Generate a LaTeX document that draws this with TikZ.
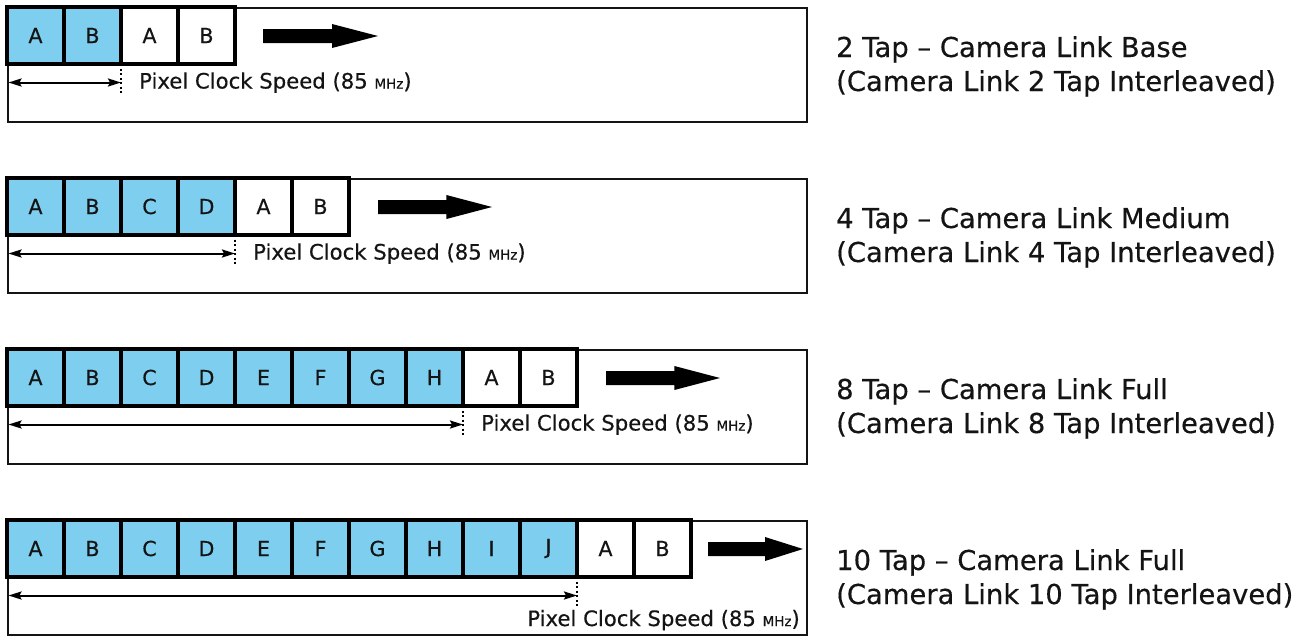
\documentclass[tikz,border=0pt]{standalone}
\usepackage{fontspec}
\setmainfont[FakeBold=0.4]{DejaVu Sans}
\usetikzlibrary{arrows.meta}
\definecolor{cellblue}{RGB}{126,206,239}
\definecolor{ink}{RGB}{20,20,20}
\newcommand\cellfont{\fontsize{20.6}{22}\selectfont}
\newcommand\pixfont{\fontsize{21.2}{24}\selectfont}
\newcommand\labfont{\fontsize{27.4}{32}\selectfont}
\newcommand\MyMHz{{\fontsize{13.5}{14}\selectfont MHz}}
\begin{document}
\begin{tikzpicture}[x=1pt,y=-1pt,
  frame/.style={draw=ink, line width=1.6pt, inner sep=0pt, minimum width=799pt, minimum height=114pt, anchor=north west},
  cell/.style={draw=black, line width=3.8pt, minimum width=57pt, minimum height=57pt, inner sep=0pt, font=\cellfont, text=ink},
  bigarrow/.style={fill=black},
  dim/.style={draw=black, line width=2pt, {Stealth[length=13pt,width=8pt,inset=2pt]}-{Stealth[length=13pt,width=8pt,inset=2pt]}},
  dots/.style={draw=black, line width=1.8pt, dash pattern=on 2pt off 2.5pt},
  pix/.style={font=\pixfont, text=ink, inner sep=0pt},
  lab/.style={font=\labfont, text=ink, inner sep=0pt, anchor=base west}
]
\useasboundingbox (0,0) rectangle (1309,635);
\foreach \r/\nb/\as/\ae/\la/\lb in {
  0/2/263/378/{2 Tap – Camera Link Base}/{(Camera Link 2 Tap Interleaved)},
  1/4/378/492/{4 Tap – Camera Link Medium}/{(Camera Link 4 Tap Interleaved)},
  2/8/606/720/{8 Tap – Camera Link Full}/{(Camera Link 8 Tap Interleaved)},
  3/10/708/803/{10 Tap – Camera Link Full}/{(Camera Link 10 Tap Interleaved)}} {
  \pgfmathsetmacro\ty{7+171*\r}
  \pgfmathtruncatemacro\m{\nb+2}
  \pgfmathsetmacro\xc{7+57*\nb}
  \pgfmathsetmacro\hs{\ae-0.4*(\ae-\as)}
  % frame
  \node[frame] (frame-\r) at (7,\ty) {};
  % cells
  \foreach \i in {1,...,\m} {
    \ifnum\i>\nb
      \pgfmathtruncatemacro\k{\i-\nb-1}
      \def\fillc{white}
    \else
      \pgfmathtruncatemacro\k{\i-1}
      \def\fillc{cellblue}
    \fi
    \pgfmathsetmacro\L{{"A","B","C","D","E","F","G","H","I","J"}[\k]}
    \node[cell, fill=\fillc] (c-\r-\i) at ({7+57*(\i-0.5)}, \ty+28.5) {\L};
  }
  % big arrow
  \fill[bigarrow] (\as,\ty+22) -- (\hs,\ty+22) -- (\hs,\ty+17) -- (\ae,\ty+29)
     -- (\hs,\ty+41) -- (\hs,\ty+36) -- (\as,\ty+36) -- cycle;
  % dimension arrow
  \coordinate (dl-\r) at (8.5,\ty+75.5);
  \coordinate (dr-\r) at (\xc,\ty+75.5);
  \coordinate (dt-\r) at (\xc,\ty+57);
  \coordinate (db-\r) at (\xc,\ty+86);
  \draw[dim] (dl-\r) -- (dr-\r);
  \draw[dots] (dt-\r) -- (db-\r);
  \ifnum\r=3
    \node[pix, anchor=base east] (p-\r) at (800,\ty+106) {Pixel Clock Speed (85 \MyMHz)};
  \else
    \node[pix, anchor=base west] (p-\r) at (\xc+18,\ty+81.5) {Pixel Clock Speed (85 \MyMHz)};
  \fi
  % labels
  \node[lab] (la-\r) at (836,\ty+50) {\la};
  \node[lab] (lb-\r) at (836,\ty+84) {\lb};
}
\end{tikzpicture}
\end{document}
